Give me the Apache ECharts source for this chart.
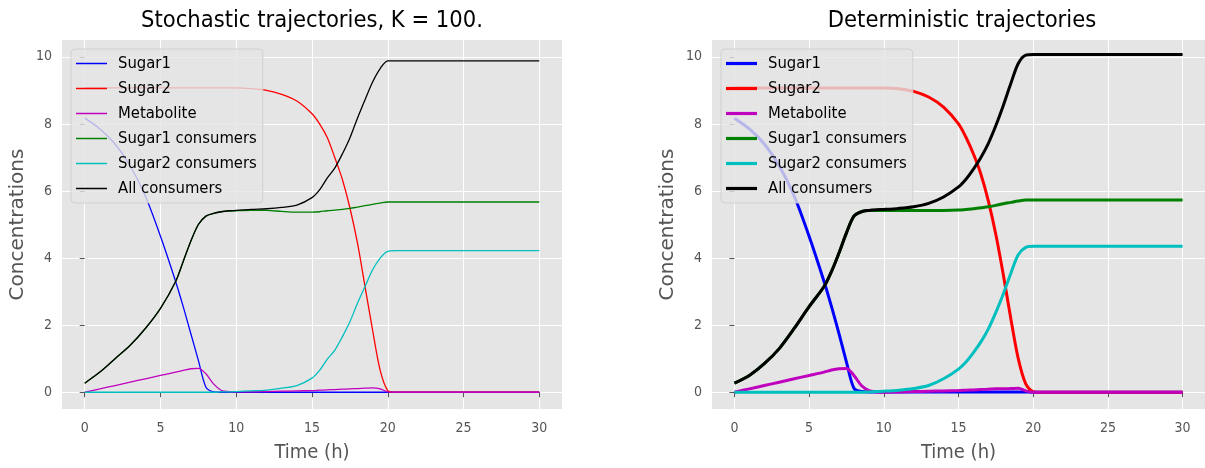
<!DOCTYPE html>
<html>
<head>
<meta charset="utf-8">
<script src="https://cdn.jsdelivr.net/npm/echarts@6/dist/echarts.min.js"></script>
<style>
html,body{margin:0;padding:0;background:#fff;}
#chart{width:1205px;height:468px;}
</style>
</head>
<body>
<div id="chart"></div>
<script>
// ---- Data ----
const seriesNames = ['Sugar1', 'Sugar2', 'Metabolite', 'Sugar1 consumers', 'Sugar2 consumers', 'All consumers'];
const xTicks = [0, 5, 10, 15, 20, 25, 30];
const yTicks = [0, 2, 4, 6, 8, 10];
const time = [0,1,2,3,4,5,6,6.5,7,7.5,8,8.5,9,9.5,10,11,12,13,14,15,15.5,16,16.5,17,17.5,18,18.5,19,19.5,20,20.5,25,30];

// Stochastic (left)
const stoSugar1 = [8.17,7.85,7.4,6.75,5.85,4.65,3.3,2.55,1.75,0.95,0.15,0.01,0,0,0,0,0,0,0,0,0,0,0,0,0,0,0,0,0,0,0,0,0];
const stoSugar2 = [9.07,9.07,9.07,9.07,9.07,9.07,9.07,9.07,9.07,9.07,9.07,9.07,9.07,9.07,9.07,9.05,9.0,8.88,8.68,8.3,8.0,7.6,7.0,6.35,5.5,4.45,3.15,1.85,0.65,0.05,0,0,0];
const stoMetab = [0,0.1,0.2,0.3,0.4,0.5,0.6,0.65,0.7,0.71,0.55,0.25,0.06,0.02,0.01,0.01,0.02,0.03,0.04,0.05,0.06,0.07,0.08,0.09,0.1,0.11,0.12,0.13,0.1,0.01,0,0,0];
const stoCons1 = [0.27,0.6,1.0,1.4,1.9,2.5,3.3,3.9,4.5,5.0,5.25,5.33,5.38,5.4,5.41,5.42,5.42,5.39,5.37,5.37,5.38,5.41,5.43,5.45,5.48,5.52,5.56,5.6,5.64,5.67,5.67,5.67,5.67];
const stoCons2 = [0,0,0,0,0,0,0,0,0,0,0,0,0.01,0.01,0.02,0.04,0.06,0.12,0.2,0.42,0.65,0.98,1.25,1.65,2.1,2.65,3.15,3.65,4.0,4.2,4.22,4.22,4.22];
const stoAll = [0.27,0.6,1.0,1.4,1.9,2.5,3.3,3.9,4.5,5.0,5.25,5.33,5.38,5.41,5.42,5.45,5.47,5.51,5.58,5.8,6.03,6.38,6.68,7.1,7.58,8.17,8.72,9.25,9.65,9.88,9.88,9.88,9.88];

// Deterministic (right)
const detSugar1 = [8.17,7.85,7.4,6.75,5.85,4.65,3.3,2.55,1.75,0.9,0.12,0.02,0.01,0.01,0.01,0.01,0.01,0.01,0.01,0.01,0.01,0.01,0.01,0.01,0.01,0.01,0.01,0.01,0.01,0,0,0,0];
const detSugar2 = [9.07,9.07,9.07,9.07,9.07,9.07,9.07,9.07,9.07,9.07,9.07,9.07,9.07,9.07,9.07,9.05,8.97,8.8,8.5,8.0,7.6,7.1,6.5,5.7,4.7,3.5,2.2,1.0,0.25,0.02,0,0,0];
const detMetab = [0,0.1,0.2,0.3,0.4,0.5,0.6,0.66,0.7,0.71,0.5,0.2,0.05,0.01,0,0.01,0.02,0.03,0.04,0.05,0.06,0.07,0.08,0.09,0.1,0.1,0.11,0.12,0.04,0,0,0,0];
const detCons1 = [0.27,0.5,0.85,1.3,1.9,2.55,3.15,3.6,4.15,4.75,5.25,5.38,5.42,5.42,5.42,5.42,5.42,5.42,5.42,5.43,5.45,5.47,5.5,5.53,5.57,5.62,5.66,5.7,5.73,5.73,5.73,5.73,5.73];
const detCons2 = [0,0,0,0,0,0,0,0,0,0,0,0,0.01,0.02,0.03,0.06,0.11,0.2,0.4,0.69,0.9,1.18,1.5,1.89,2.38,2.93,3.54,4.1,4.32,4.35,4.35,4.35,4.35];
const detAll = [0.27,0.5,0.85,1.3,1.9,2.55,3.15,3.6,4.15,4.75,5.25,5.38,5.42,5.44,5.45,5.48,5.53,5.63,5.82,6.12,6.35,6.65,7.0,7.42,7.95,8.55,9.2,9.8,10.05,10.07,10.07,10.07,10.07];

const colors = ['#0000ff', '#ff0000', '#bf00bf', '#008000', '#00bfbf', '#000000'];
const titles = ['Stochastic trajectories, K = 100.', 'Deterministic trajectories'];

// ---- Chart ----
const FONT = "'DejaVu Sans Condensed', 'DejaVu Sans', sans-serif";
const FONT_REG = "'DejaVu Sans', sans-serif";
const gridLefts = [62, 712];
const GW = 500, GT = 40, GH = 371;

function zip(ys) { return time.map((t, i) => [t, ys[i]]); }

const panels = [
  {data: [stoSugar1, stoSugar2, stoMetab, stoCons1, stoCons2, stoAll], width: 1.3},
  {data: [detSugar1, detSugar2, detMetab, detCons1, detCons2, detAll], width: 3}
];

const grid = [], xAxis = [], yAxis = [], series = [], title = [], legend = [];
panels.forEach((p, k) => {
  grid.push({left: gridLefts[k], top: GT, width: GW, height: GH, show: true,
    backgroundColor: '#E5E5E5', borderWidth: 0, containLabel: false});
  xAxis.push({type: 'value', gridIndex: k, min: -1.5, max: 31.5,
    name: 'Time (h)', nameLocation: 'middle', nameGap: 34,
    nameTextStyle: {fontFamily: FONT, fontSize: 20, color: '#555555'},
    axisLine: {show: false},
    axisTick: {show: true, length: 5, customValues: xTicks, lineStyle: {color: '#555555', width: 1}},
    axisLabel: {customValues: xTicks, margin: 12, fontFamily: FONT, fontSize: 14, color: '#555555'},
    splitLine: {show: true, lineStyle: {color: '#ffffff', width: 1}}
  });
  yAxis.push({type: 'value', gridIndex: k, min: -0.5, max: 10.5,
    name: 'Concentrations', nameLocation: 'middle', nameGap: 34,
    nameTextStyle: {fontFamily: FONT_REG, fontSize: 20, color: '#555555'},
    axisLine: {show: false},
    axisTick: {show: true, length: 5, customValues: yTicks, lineStyle: {color: '#555555', width: 1}},
    axisLabel: {customValues: yTicks, margin: 10, fontFamily: FONT, fontSize: 14, color: '#555555'},
    splitLine: {show: true, lineStyle: {color: '#ffffff', width: 1}}
  });
  title.push({text: titles[k], left: gridLefts[k] + GW / 2, textAlign: 'center', top: 9, padding: 0,
    textStyle: {fontFamily: FONT, fontSize: 23.5, fontWeight: 'normal', color: '#000000'}});
  legend.push({left: gridLefts[k] + 9, top: 49, orient: 'vertical',
    data: seriesNames.map(n => ({name: n, icon: 'rect'})),
    itemWidth: 31, itemHeight: p.width < 2 ? 1.5 : 3.2, itemGap: 7, padding: [5.5, 6, 5.5, 5],
    backgroundColor: 'rgba(229,229,229,0.8)', borderColor: 'rgba(204,204,204,0.8)', borderWidth: 1, borderRadius: 4,
    selectedMode: false,
    textStyle: {fontFamily: FONT, fontSize: 16.5, color: '#000000', lineHeight: 18, padding: [0, 0, 0, 6]}
  });
  p.data.forEach((ys, i) => {
    series.push({type: 'line', name: seriesNames[i], xAxisIndex: k, yAxisIndex: k,
      data: zip(ys), showSymbol: false, symbol: 'none', smooth: 0.3,
      lineStyle: {color: colors[i], width: p.width}, itemStyle: {color: colors[i]},
      animation: false});
  });
});

const chart = echarts.init(document.getElementById('chart'), null, {renderer: 'canvas'});
chart.setOption({
  animation: false,
  textStyle: {fontFamily: FONT},
  title, legend, grid, xAxis, yAxis, series
});
</script>
</body>
</html>
